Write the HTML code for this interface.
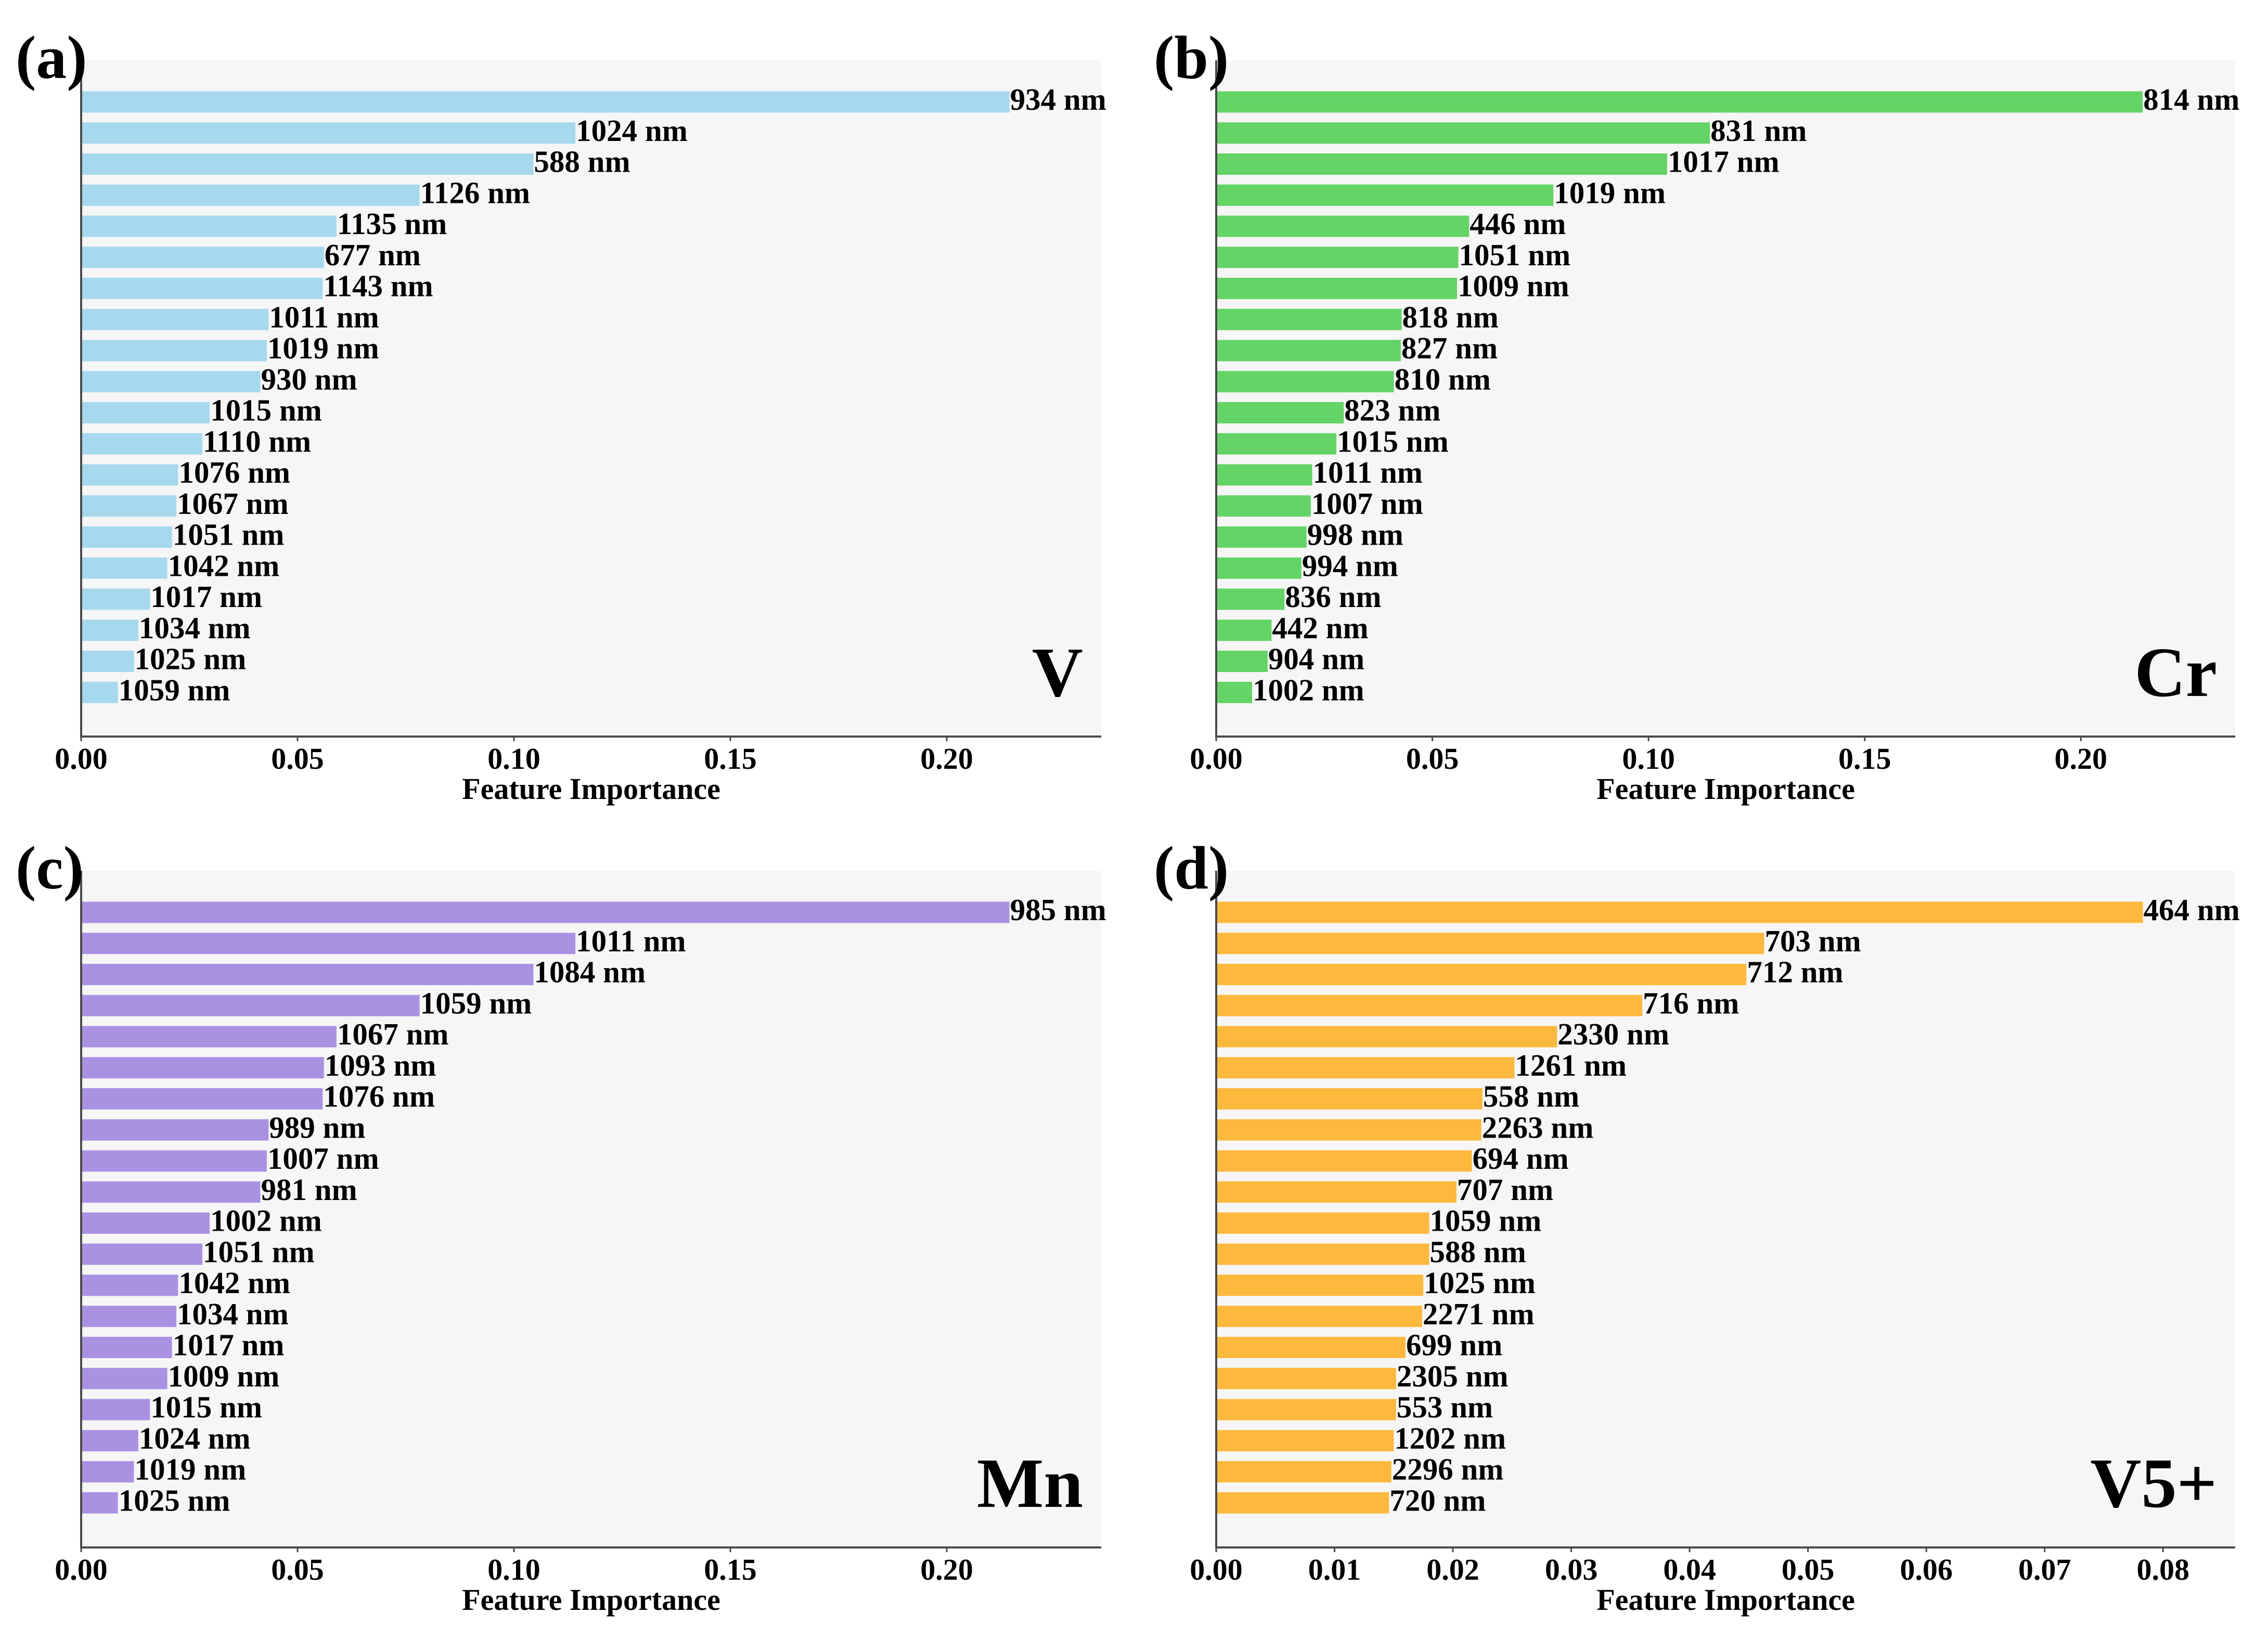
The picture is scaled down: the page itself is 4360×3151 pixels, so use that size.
<!DOCTYPE html>
<html>
<head>
<meta charset="utf-8">
<style>
html,body{margin:0;padding:0;background:#fff;}
svg{display:block;}
text{font-family:"Liberation Serif","Times New Roman",serif;font-weight:bold;fill:#000;}
</style>
</head>
<body>
<svg id="fig" width="4360" height="3151" viewBox="0 0 4360 3151" xmlns="http://www.w3.org/2000/svg"></svg>
<script>
// ---- data ----
const labelsA = ["934 nm","1024 nm","588 nm","1126 nm","1135 nm","677 nm","1143 nm","1011 nm","1019 nm","930 nm","1015 nm","1110 nm","1076 nm","1067 nm","1051 nm","1042 nm","1017 nm","1034 nm","1025 nm","1059 nm"];
const valuesA = [0.2145,0.1142,0.1045,0.0782,0.0590,0.0561,0.0558,0.0433,0.0429,0.0414,0.0297,0.0280,0.0224,0.0220,0.0210,0.0199,0.0159,0.0132,0.0122,0.0085];
const labelsB = ["814 nm","831 nm","1017 nm","1019 nm","446 nm","1051 nm","1009 nm","818 nm","827 nm","810 nm","823 nm","1015 nm","1011 nm","1007 nm","998 nm","994 nm","836 nm","442 nm","904 nm","1002 nm"];
const valuesB = [0.2143,0.1142,0.1043,0.0780,0.0585,0.0560,0.0557,0.0429,0.0427,0.0411,0.0295,0.0278,0.0222,0.0219,0.0209,0.0197,0.0158,0.0128,0.0119,0.0083];
const labelsC = ["985 nm","1011 nm","1084 nm","1059 nm","1067 nm","1093 nm","1076 nm","989 nm","1007 nm","981 nm","1002 nm","1051 nm","1042 nm","1034 nm","1017 nm","1009 nm","1015 nm","1024 nm","1019 nm","1025 nm"];
const valuesC = [0.2145,0.1142,0.1045,0.0782,0.0590,0.0561,0.0558,0.0433,0.0429,0.0414,0.0297,0.0280,0.0224,0.0220,0.0210,0.0199,0.0159,0.0132,0.0122,0.0085];
const labelsD = ["464 nm","703 nm","712 nm","716 nm","2330 nm","1261 nm","558 nm","2263 nm","694 nm","707 nm","1059 nm","588 nm","1025 nm","2271 nm","699 nm","2305 nm","553 nm","1202 nm","2296 nm","720 nm"];
const valuesD = [0.0783,0.0463,0.0448,0.0360,0.0288,0.0252,0.0225,0.0224,0.0216,0.0203,0.0180,0.0180,0.0175,0.0174,0.0160,0.0152,0.0152,0.0150,0.0148,0.0146];
const ticksABC = ["0.00","0.05","0.10","0.15","0.20"];
const ticksD = ["0.00","0.01","0.02","0.03","0.04","0.05","0.06","0.07","0.08"];

const NS = "http://www.w3.org/2000/svg";
const svg = document.getElementById('fig');
function mk(tag, attrs, parent){
  const e = document.createElementNS(NS, tag);
  for (const k in attrs) e.setAttribute(k, attrs[k]);
  (parent||svg).appendChild(e);
  return e;
}

const panels = [
  {id:'a', el:'V', labels:labelsA, values:valuesA, ticks:ticksABC, color:'#a6d8ee', L:156, R:2117, T:116, B:1416, xmax:0.2357, lx:30, ly:150},
  {id:'b', el:'Cr', labels:labelsB, values:valuesB, ticks:ticksABC, color:'#63d465', L:2338, R:4297, T:116, B:1416, xmax:0.2357, lx:2218, ly:150},
  {id:'c', el:'Mn', labels:labelsC, values:valuesC, ticks:ticksABC, color:'#aa92e3', L:156, R:2117, T:1674, B:2975, xmax:0.2357, lx:30, ly:1708},
  {id:'d', el:'V5+', labels:labelsD, values:valuesD, ticks:ticksD, color:'#fdb93e', L:2338, R:4297, T:1674, B:2975, xmax:0.0861, lx:2218, ly:1708}
];

panels.forEach(p => {
  const g = mk('g', {});
  
  
  const xs = v => p.L + (v / p.xmax) * (p.R - p.L);
  const step = 59.75;
  const ys = i => p.T + 80 + i * step;

  const bg = mk('rect', {x:p.L, y:p.T, width:p.R-p.L, height:p.B-p.T, fill:'#f6f6f6'}, g);
  
  

  p.values.forEach((v, i) => {
    const cy = ys(i);
    const bar = mk('rect', {x:p.L, y:cy-20.5, width:xs(v)-p.L, height:41, fill:p.color}, g);
    
    
    const t = mk('text', {x:xs(v)+1, y:cy+15, 'font-size':59}, g);
    t.textContent = p.labels[i];
    
    
  });

  const sl = mk('line', {x1:p.L, y1:p.T, x2:p.L, y2:p.B+2, stroke:'#4a4a4a', 'stroke-width':4}, g);
  
  
  const sb = mk('line', {x1:p.L-2, y1:p.B, x2:p.R, y2:p.B, stroke:'#4a4a4a', 'stroke-width':4}, g);
  
  

  p.ticks.forEach(tk => {
    const x = xs(parseFloat(tk));
    const tm = mk('line', {x1:x, y1:p.B, x2:x, y2:p.B+9, stroke:'#4a4a4a', 'stroke-width':3}, g);
    
    
    const tl = mk('text', {x:x, y:p.B+62, 'font-size':58, 'text-anchor':'middle'}, g);
    tl.textContent = tk;
    
    
  });

  const xt = mk('text', {x:(p.L+p.R)/2, y:p.B+120, 'font-size':58, 'text-anchor':'middle'}, g);
  xt.textContent = 'Feature Importance';
  
  

  const el = mk('text', {x:p.R-35, y:p.B-78, 'font-size':136, 'text-anchor':'end'}, g);
  el.textContent = p.el;
  
  

  const pl = mk('text', {x:p.lx, y:p.ly, 'font-size':118}, g);
  pl.textContent = '(' + p.id + ')';
  
  
});
</script>
</body>
</html>
